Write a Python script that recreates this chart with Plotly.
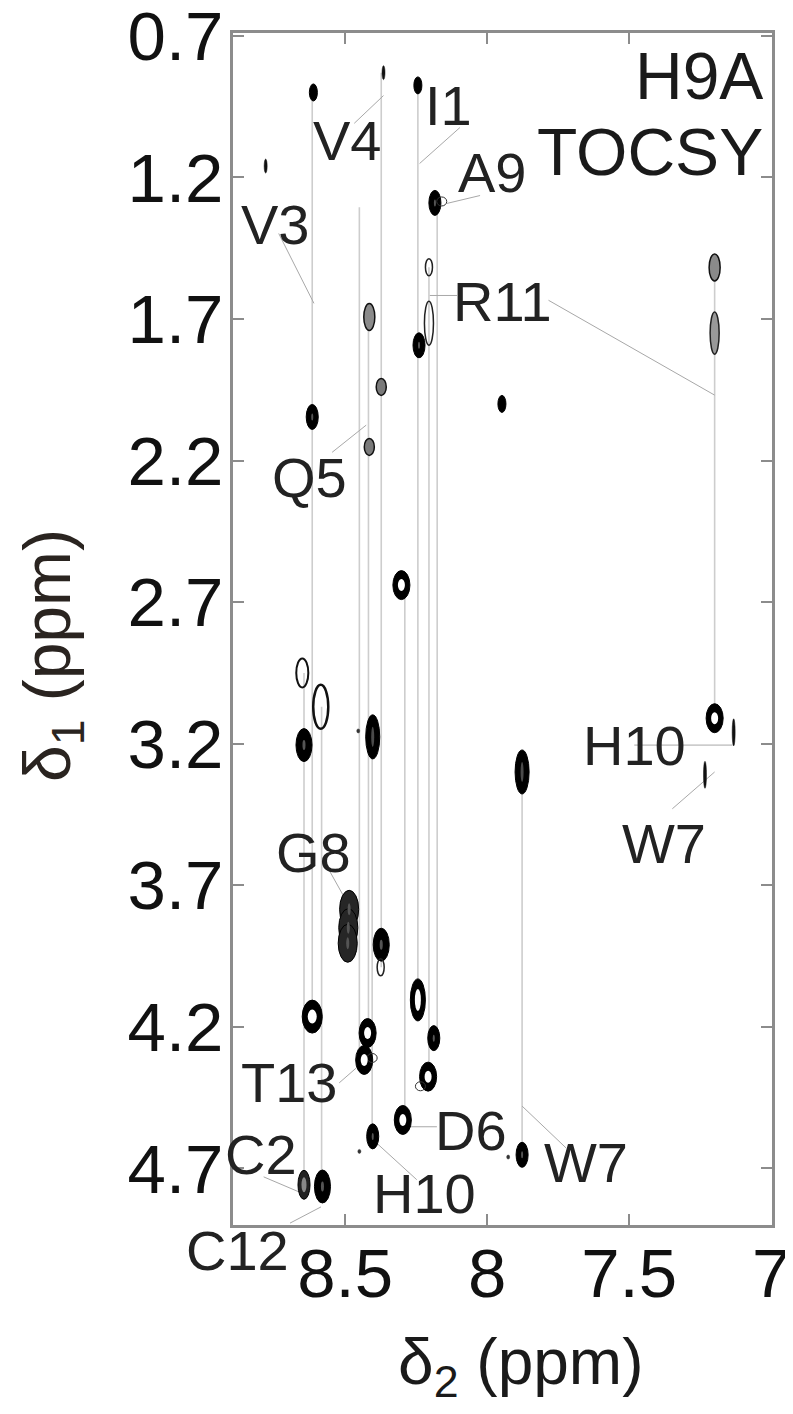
import plotly.graph_objects as go

# ---------------- data (ppm) ----------------
# cross peaks: delta2 (HN), delta1, contour style kind
peak_d2 = [8.612, 8.365, 8.244, 8.780, 8.184, 8.160, 8.205, 8.205, 8.240, 8.415,
           8.373, 8.616, 8.415, 7.199, 7.199, 7.948, 8.302, 7.199, 7.132, 7.233,
           8.651, 8.586, 8.645, 8.403, 7.877, 8.486, 8.489, 8.491, 8.373, 8.375,
           8.616, 8.244, 8.188, 8.421, 8.433, 8.405, 8.208, 8.235, 8.297, 8.403,
           8.645, 8.580, 7.877, 8.450, 7.926, 8.454]
peak_d1 = [0.900, 0.830, 0.875, 1.160, 1.290, 1.285, 1.517, 1.715, 1.793, 1.693,
           1.940, 2.046, 2.152, 1.518, 1.750, 2.000, 2.640, 3.110, 3.160, 3.310,
           2.950, 3.070, 3.205, 3.176, 3.300, 3.785, 3.850, 3.905, 3.910, 3.990,
           4.164, 4.105, 4.240, 4.222, 4.317, 4.310, 4.376, 4.410, 4.529, 4.587,
           4.758, 4.764, 4.652, 4.640, 4.660, 3.155]
peak_kind = ["dot_s", "tick", "dot_s", "tick", "dot", "loop", "open_s", "open_tall", "dot", "grey",
             "grey_s", "dot", "grey_s", "grey", "grey_tall", "dot_s", "ring", "ring", "tick_tall", "tick_tall",
             "open", "open_l", "dot_l", "dot_tall", "dot_tall", "multi", "multi", "multi", "dot_l", "open_s",
             "ring_l", "ring_tall", "dot", "ring", "ring", "loop", "ring", "loop", "ring", "dot",
             "ring_g", "dot_l", "dot", "speck", "speck", "speck"]

# spin-system connectivity lines (delta2, delta1 start, delta1 end)
spin_d2 = [8.645, 8.616, 8.583, 8.450, 8.418, 8.405, 8.373, 8.290, 8.244, 8.205, 8.176, 7.877, 7.199]
spin_from = [2.95, 0.90, 3.07, 1.305, 1.69, 3.176, 0.83, 2.64, 0.875, 1.517, 1.29, 3.30, 1.518]
spin_to = [4.758, 4.164, 4.764, 4.32, 4.222, 4.587, 3.99, 4.529, 4.105, 4.376, 4.24, 4.652, 3.11]

# residue labels placed inside the frame
label_text = ["V4", "V3", "I1", "A9", "R11", "Q5", "G8", "H10", "W7", "T13", "D6", "W7", "H10", "C2"]
label_d2 = [8.493, 8.745, 8.135, 7.982, 7.947, 8.624, 8.610, 7.482, 7.379, 8.695, 8.057, 7.652, 8.220, 8.798]
label_d1 = [1.069, 1.366, 0.946, 1.182, 1.638, 2.259, 3.583, 3.205, 3.551, 4.398, 4.567, 4.680, 4.790, 4.652]

# leader lines from labels to peaks/lines: (d2 start, d1 start, d2 end, d1 end)
lead_x0 = [8.365, 8.734, 8.096, 8.142, 8.202, 7.784, 8.546, 8.557, 8.521, 8.280, 8.390, 8.787, 7.482, 7.348, 7.877]
lead_y0 = [0.911, 1.398, 1.024, 1.292, 1.617, 1.634, 2.171, 3.646, 4.398, 4.553, 4.610, 4.730, 3.205, 3.430, 4.480]
lead_x1 = [8.468, 8.610, 8.238, 8.025, 8.106, 7.199, 8.426, 8.504, 8.457, 8.177, 8.248, 8.663, 7.136, 7.199, 7.722]
lead_y1 = [1.009, 1.645, 1.151, 1.264, 1.617, 1.969, 2.075, 3.741, 4.342, 4.553, 4.740, 4.783, 3.205, 3.300, 4.628]

# label below the frame, pointing at the C12 alpha/NH peak
c12_text = "C12"
c12_target = (8.585, 4.836)

x_ticks = [8.5, 8.0, 7.5, 7.0]
x_ticktext = ["8.5", "8", "7.5", "7"]
y_ticks = [0.7, 1.2, 1.7, 2.2, 2.7, 3.2, 3.7, 4.2, 4.7]
y_ticktext = ["0.7", "1.2", "1.7", "2.2", "2.7", "3.2", "3.7", "4.2", "4.7"]

title_lines = ["H9A", "TOCSY"]

# ---------------- styling ----------------
FONT = "Liberation Sans, Arial, Helvetica, sans-serif"
X_RANGE = [8.895, 6.997]
Y_RANGE = [4.90, 0.69]
PPX = 1 / 283.0  # ppm per screen pixel (both axes)

# kind -> (width px, height px, fill, line colour, line width, inner core (w,h,colour) or None)
STYLE = {
    "speck": (3, 4, "#333", "#333", 0.5, None),
    "tick": (3, 14, "#111", "#111", 0.5, None),
    "tick_tall": (3, 27, "#111", "#111", 0.5, None),
    "dot_s": (8, 17, "#000", "#000", 1, None),
    "dot": (12, 25, "#000", "#000", 1, (2, 7, "#555")),
    "dot_l": (16, 33, "#000", "#000", 1, (3, 10, "#555")),
    "dot_tall": (14, 44, "#000", "#000", 1, (3, 20, "#4a4a4a")),
    "multi": (19, 38, "#262626", "#000", 1, (3, 12, "#555")),
    "ring": (17, 29, "#000", "#000", 1, (7, 12, "#fff")),
    "ring_l": (20, 33, "#000", "#000", 1, (9, 14, "#fff")),
    "ring_tall": (15, 42, "#000", "#000", 1, (6, 22, "#fff")),
    "ring_g": (12, 29, "#222", "#000", 1, (5, 15, "#888")),
    "open": (12, 29, "rgba(0,0,0,0)", "#111", 2, None),
    "open_l": (15, 44, "rgba(0,0,0,0)", "#111", 2.5, None),
    "open_s": (7, 17, "rgba(0,0,0,0)", "#222", 1.5, None),
    "open_tall": (9, 44, "rgba(0,0,0,0)", "#222", 1.5, None),
    "grey": (11, 27, "#8a8a8a", "#111", 1.5, None),
    "grey_s": (10, 17, "#7a7a7a", "#111", 1.5, None),
    "grey_tall": (9, 42, "#999", "#222", 1.5, None),
    "loop": (10, 9, "rgba(0,0,0,0)", "#333", 1, None),
}

shapes = []
# spin-system lines (light grey, below)
for xv, y0, y1 in zip(spin_d2, spin_from, spin_to):
    shapes.append(dict(type="line", xref="x", yref="y", x0=xv, x1=xv, y0=y0, y1=y1,
                       line=dict(color="#cdcdcd", width=1.6), layer="below"))

# leader lines
for x0, y0, x1, y1 in zip(lead_x0, lead_y0, lead_x1, lead_y1):
    shapes.append(dict(type="line", xref="x", yref="y", x0=x0, x1=x1, y0=y0, y1=y1,
                       line=dict(color="#a8a8a8", width=1), layer="below"))

# peaks as ellipses (outer contours first, then inner cores on top)
core_shapes = []
for xv, yv, k in zip(peak_d2, peak_d1, peak_kind):
    w, h, fill, lc, lw, core = STYLE[k]
    dx, dy = w / 2 * PPX, h / 2 * PPX
    shapes.append(dict(type="circle", xref="x", yref="y", x0=xv - dx, x1=xv + dx,
                       y0=yv - dy, y1=yv + dy, fillcolor=fill,
                       line=dict(color=lc, width=lw), layer="above"))
    if core:
        cx, cy = core[0] / 2 * PPX, core[1] / 2 * PPX
        core_shapes.append(dict(type="circle", xref="x", yref="y", x0=xv - cx, x1=xv + cx,
                                y0=yv - cy, y1=yv + cy, fillcolor=core[2],
                                line=dict(color=core[2], width=0), layer="above"))
shapes += core_shapes

annotations = []
# residue labels
for t, xv, yv in zip(label_text, label_d2, label_d1):
    annotations.append(dict(x=xv, y=yv, xref="x", yref="y", text=t, showarrow=False,
                            xanchor="center", yanchor="middle",
                            font=dict(family=FONT, size=56, color="#222")))

# C12 label sits below the frame; its leader is the annotation arrow
annotations.append(dict(x=c12_target[0], y=c12_target[1], xref="x", yref="y", text=c12_text,
                        showarrow=True, arrowhead=0, arrowwidth=1, arrowcolor="#a8a8a8",
                        ax=-84, ay=44, standoff=0,
                        font=dict(family=FONT, size=56, color="#222")))

# panel title
annotations.append(dict(x=7.021, y=0.843, xref="x", yref="y", text=title_lines[0], showarrow=False,
                        xanchor="right", yanchor="middle", font=dict(family=FONT, size=66, color="#1a1a1a")))
annotations.append(dict(x=7.021, y=1.112, xref="x", yref="y", text=title_lines[1], showarrow=False,
                        xanchor="right", yanchor="middle", font=dict(family=FONT, size=66, color="#1a1a1a")))

# axis titles
annotations.append(dict(x=0.534, y=-0.118, xref="paper", yref="paper", text="δ<sub>2</sub> (ppm)",
                        showarrow=False, xanchor="center", yanchor="middle",
                        font=dict(family=FONT, size=64, color="#1a1a1a")))
annotations.append(dict(x=-0.336, y=0.478, xref="paper", yref="paper", text="δ<sub>1</sub> (ppm)",
                        showarrow=False, xanchor="center", yanchor="middle", textangle=-90,
                        font=dict(family=FONT, size=66, color="#2a2420")))

fig = go.Figure()
fig.add_trace(go.Scatter(x=peak_d2, y=peak_d1, mode="markers",
                         marker=dict(size=1, color="rgba(0,0,0,0)"),
                         hovertemplate="δ2 %{x:.3f}<br>δ1 %{y:.3f}<extra></extra>",
                         showlegend=False))

axis_common = dict(showline=True, mirror="ticks", linecolor="#8c8c8c", linewidth=2.5,
                   ticks="inside", ticklen=11, tickwidth=1.5, tickcolor="#8c8c8c",
                   showgrid=False, zeroline=False, ticklabeloverflow="allow",
                   automargin=False,
                   tickfont=dict(family=FONT, size=69, color="#111"))

# the page body adds an 8 px offset at top/left
fig.update_layout(
    width=785, height=1398, autosize=False,
    margin=dict(l=225, r=21, t=25, b=181, autoexpand=False),
    paper_bgcolor="white", plot_bgcolor="white",
    xaxis=dict(range=X_RANGE, tickvals=x_ticks, ticktext=x_ticktext,
               ticklabelstandoff=-14, **axis_common),
    yaxis=dict(range=Y_RANGE, tickvals=y_ticks, ticktext=y_ticktext,
               ticklabelstandoff=-7, **axis_common),
    shapes=shapes, annotations=annotations, showlegend=False,
)

fig.write_html("out.html")
